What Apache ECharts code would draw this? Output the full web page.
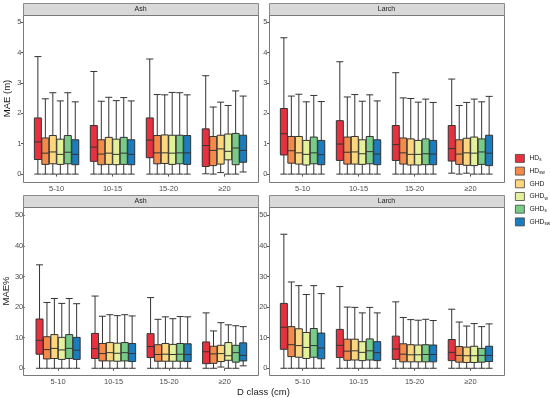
<!DOCTYPE html>
<html><head><meta charset="utf-8">
<script src="https://cdn.jsdelivr.net/npm/echarts@6/dist/echarts.min.js"></script>
<style>html,body{margin:0;padding:0;background:#fff}#c{width:550px;height:398px}</style>
</head><body><div id="c"></div>
<script>
const categories = ['5-10', '10-15', '15-20', '≥20'];
const seriesNames = ['HDs', 'HDsw', 'GHD', 'GHDw', 'GHDs', 'GHDsw'];
const legendBase = ['HD', 'HD', 'GHD', 'GHD', 'GHD', 'GHD'];
const legendSub = ['s', 'sw', '', 'w', 's', 'sw'];
const panelTitles = ['Ash', 'Larch', 'Ash', 'Larch'];
const yTicksTop = [0, 1, 2, 3, 4, 5];
const yTicksBottom = [0, 10, 20, 30, 40, 50];

// [min, Q1, median, Q3, max] per D class, one row per method
const ashMAE = [
  [[0,0.48,1.06,1.85,3.87],[0,0.42,0.89,1.60,3.38],[0,0.54,1.12,1.85,3.79],[0.01,0.25,0.94,1.49,3.24]],
  [[0,0.32,0.69,1.19,2.48],[0,0.31,0.66,1.13,2.40],[0,0.34,0.70,1.27,2.62],[0,0.28,0.78,1.24,2.21]],
  [[0,0.34,0.73,1.27,2.68],[0,0.32,0.69,1.21,2.53],[0,0.35,0.70,1.29,2.61],[0.05,0.33,0.83,1.28,2.37]],
  [[0,0.32,0.65,1.15,2.41],[0,0.31,0.65,1.15,2.42],[0,0.32,0.69,1.28,2.69],[0,0.47,0.75,1.32,2.26]],
  [[0,0.34,0.72,1.27,2.68],[0,0.32,0.69,1.21,2.52],[0,0.34,0.70,1.28,2.68],[0,0.31,0.86,1.34,2.74]],
  [[0,0.31,0.65,1.13,2.38],[0,0.31,0.65,1.13,2.41],[0,0.32,0.70,1.27,2.61],[0.07,0.39,0.78,1.28,2.57]]
];
const larchMAE = [
  [[0,0.63,1.33,2.16,4.49],[0,0.45,0.99,1.76,3.70],[0,0.45,0.97,1.60,3.34],[0.03,0.43,0.84,1.60,3.13]],
  [[0,0.36,0.77,1.24,2.57],[0,0.33,0.72,1.22,2.54],[0,0.33,0.70,1.19,2.51],[0,0.32,0.66,1.13,2.26]],
  [[0,0.33,0.70,1.24,2.63],[0,0.33,0.73,1.24,2.62],[0,0.30,0.65,1.16,2.49],[0.03,0.29,0.70,1.18,2.36]],
  [[0,0.30,0.65,1.11,2.38],[0,0.32,0.67,1.13,2.40],[0,0.30,0.65,1.11,2.37],[0,0.28,0.69,1.22,2.47]],
  [[0,0.34,0.70,1.22,2.59],[0,0.34,0.74,1.24,2.61],[0,0.31,0.67,1.16,2.47],[0,0.32,0.73,1.16,2.38]],
  [[0,0.31,0.64,1.11,2.39],[0,0.31,0.66,1.13,2.41],[0,0.31,0.66,1.11,2.36],[0,0.28,0.69,1.28,2.56]]
];
const ashPct = [
  [[0,4.6,9.15,16.1,33.8],[0,3.2,6.4,11.4,23.6],[0,3.5,7.1,11.3,23.1],[0,1.5,5.4,8.6,18.1]],
  [[0,3.05,6.1,10.3,21.5],[0,2.4,4.8,8.1,17.0],[0,2.3,4.5,7.7,16.0],[0,1.6,4.7,7.2,12.2]],
  [[0,3.2,6.5,11.0,22.8],[0,2.4,5.1,8.4,17.5],[0,2.3,4.6,8.1,16.8],[0.4,2.2,4.8,7.5,14.9]],
  [[0,2.9,6.0,10.1,21.2],[0,2.3,4.9,8.2,17.2],[0,2.3,4.5,7.8,16.2],[0,2.6,4.1,8.4,14.2]],
  [[0,3.2,6.5,11.0,22.8],[0,2.4,5.1,8.4,17.5],[0,2.3,4.6,8.1,16.9],[0,2.0,5.1,7.5,13.9]],
  [[0,2.9,5.9,10.1,21.1],[0,2.2,4.8,8.1,17.1],[0,2.2,4.5,8.0,16.8],[0.8,2.4,4.2,8.3,13.6]]
];
const larchPct = [
  [[0,6.2,13.4,21.2,43.8],[0,3.5,7.5,12.7,26.7],[0,2.9,6.3,10.5,21.7],[0,2.5,5.2,9.4,19.3]],
  [[0,3.8,7.7,13.6,28.2],[0,2.6,5.6,9.5,20.0],[0,2.1,4.6,8.0,16.6],[0,2.0,4.2,7.1,15.1]],
  [[0,3.6,7.4,12.9,27.0],[0,2.7,5.7,9.5,19.9],[0,2.1,4.4,7.7,15.9],[0,1.9,4.1,6.9,13.8]],
  [[0,3.2,6.8,11.7,24.1],[0,2.5,5.2,8.7,18.1],[0,2.1,4.4,7.6,15.7],[0,1.9,4.1,7.2,14.6]],
  [[0,3.6,7.4,13.0,27.0],[0,2.7,5.7,9.6,19.9],[0,2.1,4.5,7.7,16.0],[0,2.0,4.2,6.5,13.6]],
  [[0,3.1,6.6,11.5,24.4],[0,2.5,5.1,8.7,18.1],[0,2.1,4.5,7.6,15.6],[0,2.2,4.2,7.2,14.5]]
];
const panelData = [ashMAE, larchMAE, ashPct, larchPct];
const colors = ['#E8313F', '#F58A48', '#FDD67E', '#E4F09A', '#77CC87', '#1B7DBE'];

const FONT = 'Liberation Sans, Arial, sans-serif';
// panel layout (pixels)
const panels = [
  {x: 23, y: 15, w: 235, h: 167, stripY: 3},
  {x: 269, y: 15, w: 235, h: 167, stripY: 3},
  {x: 23, y: 207, w: 235, h: 168, stripY: 195},
  {x: 269, y: 207, w: 235, h: 168, stripY: 195}
];
const band = 235 / 4.2;
const pad = 0.1 * band;

const grids = [], xAxes = [], yAxes = [], series = [], graphics = [];
panels.forEach((p, i) => {
  grids.push({left: p.x + pad, top: p.y, width: 4 * band, height: p.h, containLabel: false});
  xAxes.push({
    type: 'category', gridIndex: i, data: categories, boundaryGap: true,
    axisLine: {show: false},
    axisTick: {show: true, alignWithLabel: true, length: 2.5, lineStyle: {color: '#555', width: 1}},
    axisLabel: {fontSize: 7.5, color: '#4d4d4d', margin: 3, fontFamily: FONT},
    splitLine: {show: false}
  });
  const top = i < 2;
  yAxes.push({
    type: 'value', gridIndex: i, position: 'left', offset: pad,
    min: top ? -0.26 : -2.2, max: top ? 5.24 : 52.7,
    axisLine: {show: false},
    axisTick: {show: true, length: 2, lineStyle: {color: '#555', width: 1}, customValues: top ? yTicksTop : yTicksBottom},
    axisLabel: {fontSize: 7.5, color: '#4d4d4d', margin: 1.5, fontFamily: FONT, customValues: top ? yTicksTop : yTicksBottom},
    splitLine: {show: false},
    name: (i === 0) ? 'MAE (m)' : (i === 2 ? 'MAE%' : ''),
    nameLocation: 'middle', nameGap: 5 + pad,
    nameTextStyle: {fontSize: 9.5, color: '#1a1a1a', fontFamily: FONT}
  });
  panelData[i].forEach((rows, s) => {
    series.push({
      type: 'boxplot', name: seriesNames[s], xAxisIndex: i, yAxisIndex: i,
      data: rows, boxWidth: [7, 7],
      itemStyle: {color: colors[s], borderColor: '#333', borderWidth: 1},
      emphasis: {disabled: true}
    });
  });
  graphics.push({
    type: 'rect', silent: true, z: 10,
    shape: {x: p.x + 0.5, y: p.stripY + 0.5, width: p.w, height: p.y - p.stripY},
    style: {fill: '#d9d9d9', stroke: '#8a8a8a', lineWidth: 1}
  });
  graphics.push({
    type: 'text', silent: true, z: 11,
    x: p.x + p.w / 2, y: p.stripY + (p.y - p.stripY) / 2 + 0.5,
    style: {text: panelTitles[i], fontSize: 7, fill: '#1a1a1a', font: '7px ' + FONT, align: 'center', verticalAlign: 'middle'}
  });
  graphics.push({
    type: 'rect', silent: true, z: 10,
    shape: {x: p.x + 0.5, y: p.y + 0.5, width: p.w, height: p.h},
    style: {fill: 'none', stroke: '#7a7a7a', lineWidth: 1}
  });
});
graphics.push({
  type: 'text', silent: true, x: 263.5, y: 392,
  style: {text: 'D class (cm)', font: '9.5px ' + FONT, fill: '#1a1a1a', align: 'center', verticalAlign: 'middle'}
});

const chart = echarts.init(document.getElementById('c'), null, {renderer: 'canvas'});
chart.setOption({
  animation: false,
  backgroundColor: '#fff',
  grid: grids, xAxis: xAxes, yAxis: yAxes, series: series,
  graphic: graphics,
  legend: {
    data: seriesNames.map((n, k) => ({
      name: n, icon: 'rect',
      itemStyle: {color: colors[k], borderColor: '#444', borderWidth: 0.8}
    })),
    orient: 'vertical', left: 515, top: 154, padding: 0,
    itemWidth: 9, itemHeight: 8, itemGap: 3.9,
    textStyle: {fontSize: 6.8, color: '#1a1a1a', fontFamily: FONT,
      rich: {
        b: {fontSize: 6.8, lineHeight: 8, color: '#1a1a1a', fontFamily: FONT},
        s: {fontSize: 4.6, lineHeight: 5, color: '#1a1a1a', fontFamily: FONT, padding: [3.5, 0, 0, 0]}
      }},
    formatter: function (name) {
      const k = seriesNames.indexOf(name);
      return '{b|' + legendBase[k] + '}' + (legendSub[k] ? '{s|' + legendSub[k] + '}' : '');
    }
  }
});
</script>
</body></html>
